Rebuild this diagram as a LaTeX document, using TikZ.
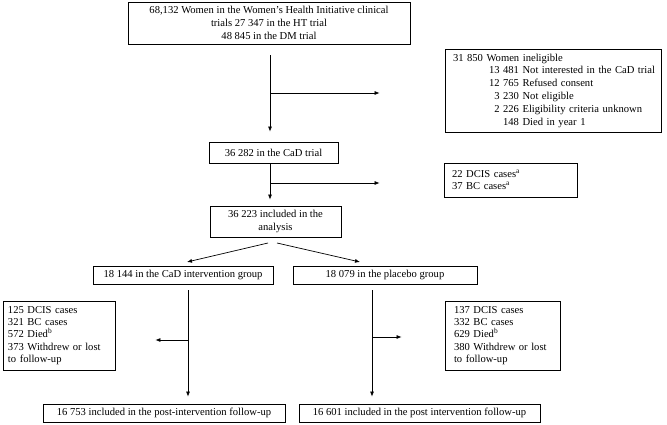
\documentclass[tikz,border=0pt]{standalone}
\usepackage{fontspec}
\setmainfont{Liberation Serif}
\usetikzlibrary{arrows.meta}
\begin{document}
\begin{tikzpicture}[x=1pt,y=-1pt,
  font=\fontsize{10.6}{12.8}\selectfont,
  box/.style={draw, line width=0.8pt, inner sep=0pt, align=center},
  lbox/.style={draw, line width=0.8pt, inner ysep=0pt, align=left},
  arr/.style={-{Latex[length=5pt,width=4pt]}, line width=0.7pt}]
\useasboundingbox (0,0) rectangle (667,425);
% nodes
\node[box, minimum width=282, minimum height=42] (top) at (269,23)
  {68,132 Women in the Women's Health Initiative clinical\\trials 27 347 in the HT trial\\48 845 in the DM trial};
\node[lbox, inner xsep=8pt, text width=200pt, minimum height=83] (inel) at (553,90.5)
  {\begin{tabular}{@{\hspace{36pt}}r@{ }l@{}}
   \multicolumn{2}{@{}l@{}}{31 850 Women ineligible}\\
   13 481 & Not interested in the CaD trial\\
   12 765 & Refused consent\\
   3 230 & Not eligible\\
   2 226 & Eligibility criteria unknown\\
   148 & Died in year 1
   \end{tabular}};
\node[box, minimum width=129, minimum height=21] (cad) at (273.5,152.5) {36 282 in the CaD trial};
\node[lbox, inner xsep=8pt, text width=117pt, minimum height=34, font=\fontsize{10.6}{11.8}\selectfont] (dcis) at (510.5,180)
  {22 DCIS cases\textsuperscript{a}\\37 BC cases\textsuperscript{a}};
\node[box, minimum width=131, minimum height=31, font=\fontsize{10.6}{13.5}\selectfont] (ana) at (275.5,221.5)
  {36 223 included in the\\analysis};
\node[box, minimum width=180, minimum height=18] (grpA) at (183,275) {18 144 in the CaD intervention group};
\node[box, minimum width=184, minimum height=18] (grpB) at (385,275) {18 079 in the placebo group};
\node[lbox, inner xsep=5pt, text width=102pt, minimum height=69, font=\fontsize{10.6}{12.3}\selectfont] (exA) at (59,335.5)
  {125 DCIS cases\\321 BC cases\\572 Died\textsuperscript{b}\\373 Withdrew or lost\\to follow-up};
\node[lbox, inner xsep=9pt, text width=97pt, minimum height=69, font=\fontsize{10.6}{12.3}\selectfont] (exB) at (502.5,335.5)
  {137 DCIS cases\\332 BC cases\\629 Died\textsuperscript{b}\\380 Withdrew or lost\\to follow-up};
\node[box, minimum width=242, minimum height=18] (finA) at (164,413) {16 753 included in the post-intervention follow-up};
\node[box, minimum width=241, minimum height=18] (finB) at (419.5,413) {16 601 included in the post intervention follow-up};
% reference coordinates
\coordinate (v1) at (270,0);
\coordinate (j1) at (270,93);
\coordinate (j2) at (270,183);
\coordinate (dA1) at (268,243);
\coordinate (dA2) at (187,262);
\coordinate (dB1) at (277,243);
\coordinate (dB2) at (360,262);
\coordinate (vA) at (188,0);
\coordinate (vB) at (372,0);
\coordinate (jA) at (188,340);
\coordinate (jB) at (372,337);
% connectors
\draw[arr, shorten <=11pt, shorten >=10pt] (top.south -| v1) -- (cad.north -| v1);
\draw[arr, shorten >=65pt] (j1) -- (j1 -| inel.west);
\draw[arr, shorten >=6pt] (cad.south -| v1) -- (ana.north -| v1);
\draw[arr, shorten >=64pt] (j2) -- (j2 -| dcis.west);
\draw[arr] (dA1) -- (dA2);
\draw[arr] (dB1) -- (dB2);
\draw[arr, shorten <=6pt, shorten >=7pt] (grpA.south -| vA) -- (finA.north -| vA);
\draw[arr, shorten >=40pt] (jA) -- (jA -| exA.east);
\draw[arr, shorten <=6pt, shorten >=7pt] (grpB.south -| vB) -- (finB.north -| vB);
\draw[arr, shorten >=43pt] (jB) -- (jB -| exB.west);
\end{tikzpicture}
\end{document}
